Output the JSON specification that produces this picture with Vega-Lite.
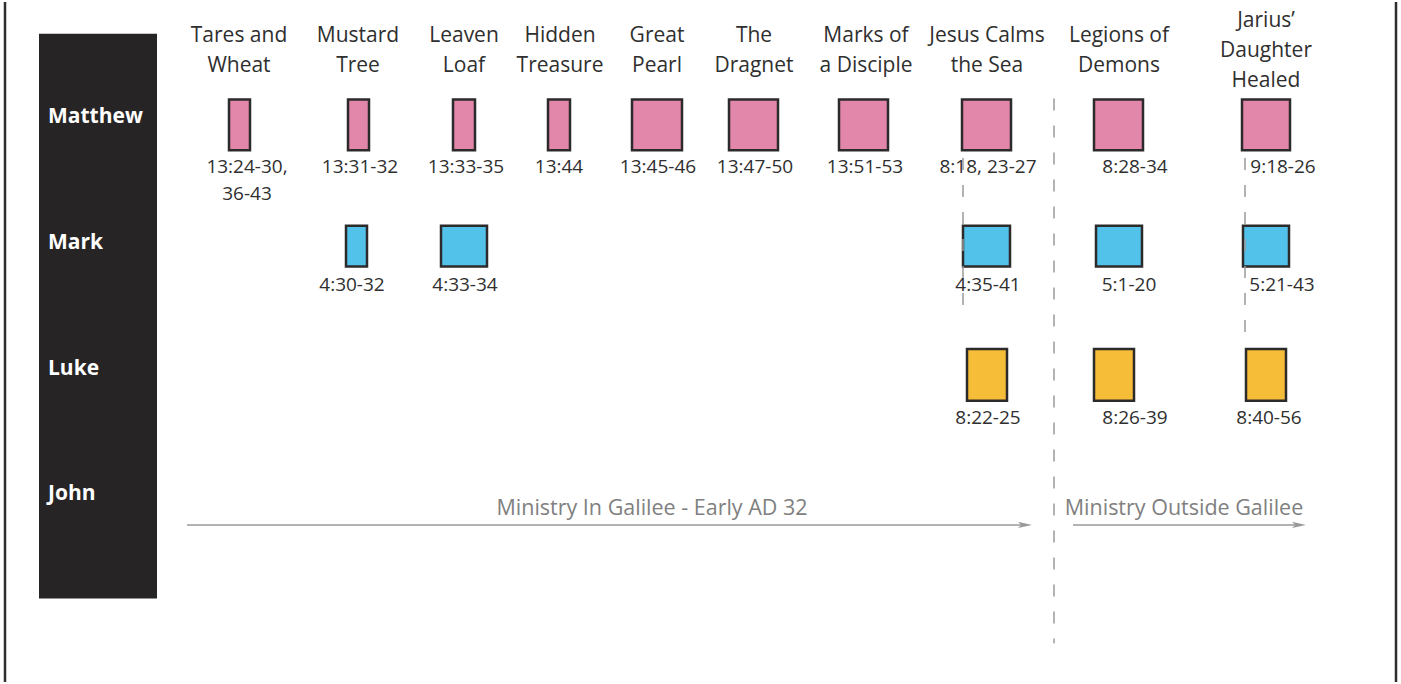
{
  "$schema": "https://vega.github.io/schema/vega-lite/v6.json",
  "width": 1401,
  "height": 684,
  "autosize": {"type": "fit", "contains": "padding"},
  "padding": 0,
  "background": "white",
  "config": {
    "view": {"stroke": null},
    "axis": {"disable": true},
    "text": {"font": "Open Sans"}
  },
  "datasets": {
    "frame": [{"x": 5}, {"x": 1396}],
    "panel": [{"x0": 39, "x1": 157, "y0": 32, "y1": 600}],
    "gospels": [
      {"gospel": "Matthew", "lx": 48, "ly": 116},
      {"gospel": "Mark", "lx": 48, "ly": 242},
      {"gospel": "Luke", "lx": 48, "ly": 369},
      {"gospel": "John", "lx": 48, "ly": 495}
    ],
    "stories": [
      {"story": "Tares and\nWheat", "tx": 239, "ty": 34},
      {"story": "Mustard\nTree", "tx": 358, "ty": 34},
      {"story": "Leaven\nLoaf", "tx": 464, "ty": 34},
      {"story": "Hidden\nTreasure", "tx": 560, "ty": 34},
      {"story": "Great\nPearl", "tx": 657, "ty": 34},
      {"story": "The\nDragnet", "tx": 754, "ty": 34},
      {"story": "Marks of\na Disciple", "tx": 866, "ty": 34},
      {"story": "Jesus Calms\nthe Sea", "tx": 987, "ty": 34},
      {"story": "Legions of\nDemons", "tx": 1119, "ty": 34},
      {"story": "Jarius’\nDaughter\nHealed", "tx": 1266, "ty": 19}
    ],
    "passages": [
      {"gospel": "Matthew", "ref": "13:24-30,\n36-43", "start": 229, "end": 250, "top": 98, "bottom": 149, "lx": 247, "ly": 166},
      {"gospel": "Matthew", "ref": "13:31-32", "start": 348, "end": 369, "top": 98, "bottom": 149, "lx": 360, "ly": 166},
      {"gospel": "Matthew", "ref": "13:33-35", "start": 453, "end": 475, "top": 98, "bottom": 149, "lx": 466, "ly": 166},
      {"gospel": "Matthew", "ref": "13:44", "start": 548, "end": 570, "top": 98, "bottom": 149, "lx": 559, "ly": 166},
      {"gospel": "Matthew", "ref": "13:45-46", "start": 632, "end": 682, "top": 98, "bottom": 149, "lx": 658, "ly": 166},
      {"gospel": "Matthew", "ref": "13:47-50", "start": 729, "end": 778, "top": 98, "bottom": 149, "lx": 755, "ly": 166},
      {"gospel": "Matthew", "ref": "13:51-53", "start": 839, "end": 888, "top": 98, "bottom": 149, "lx": 865, "ly": 166},
      {"gospel": "Matthew", "ref": "8:18, 23-27", "start": 962, "end": 1011, "top": 98, "bottom": 149, "lx": 988, "ly": 166},
      {"gospel": "Matthew", "ref": "8:28-34", "start": 1094, "end": 1143, "top": 98, "bottom": 149, "lx": 1135, "ly": 166},
      {"gospel": "Matthew", "ref": "9:18-26", "start": 1242, "end": 1290, "top": 98, "bottom": 149, "lx": 1283, "ly": 166},
      {"gospel": "Mark", "ref": "4:30-32", "start": 346, "end": 367, "top": 225, "bottom": 266, "lx": 352, "ly": 285},
      {"gospel": "Mark", "ref": "4:33-34", "start": 441, "end": 487, "top": 225, "bottom": 266, "lx": 465, "ly": 285},
      {"gospel": "Mark", "ref": "4:35-41", "start": 963, "end": 1010, "top": 225, "bottom": 266, "lx": 988, "ly": 285},
      {"gospel": "Mark", "ref": "5:1-20", "start": 1096, "end": 1142, "top": 225, "bottom": 266, "lx": 1129, "ly": 285},
      {"gospel": "Mark", "ref": "5:21-43", "start": 1243, "end": 1289, "top": 225, "bottom": 266, "lx": 1282, "ly": 285},
      {"gospel": "Luke", "ref": "8:22-25", "start": 967, "end": 1007, "top": 349, "bottom": 401, "lx": 988, "ly": 418},
      {"gospel": "Luke", "ref": "8:26-39", "start": 1094, "end": 1134, "top": 349, "bottom": 401, "lx": 1135, "ly": 418},
      {"gospel": "Luke", "ref": "8:40-56", "start": 1246, "end": 1286, "top": 349, "bottom": 401, "lx": 1269, "ly": 418}
    ],
    "dividers": [
      {"x": 1054, "y0": 97, "y1": 645},
      {"x": 963, "y0": 157, "y1": 313},
      {"x": 1245, "y0": 157, "y1": 340}
    ],
    "periods": [
      {"period": "Ministry In Galilee - Early AD 32", "x0": 187, "x1": 1026, "tip": 1025, "y": 526, "lx": 652, "ly": 510},
      {"period": "Ministry Outside Galilee", "x0": 1073, "x1": 1300, "tip": 1299, "y": 526, "lx": 1184, "ly": 510}
    ]
  },
  "layer": [
    {
      "data": {"name": "frame"},
      "mark": {"type": "rule", "stroke": "#2e2e2e", "strokeWidth": 2.5},
      "encoding": {
        "x": {"field": "x", "type": "quantitative", "axis": null, "scale": {"domain": [0, 1401], "nice": false, "zero": false}}
      }
    },
    {
      "data": {"name": "panel"},
      "mark": {"type": "rect", "fill": "#262425"},
      "encoding": {
        "x": {"field": "x0", "type": "quantitative"},
        "x2": {"field": "x1"},
        "y": {"field": "y0", "type": "quantitative", "axis": null, "scale": {"domain": [0, 684], "reverse": true, "nice": false, "zero": false}},
        "y2": {"field": "y1"}
      }
    },
    {
      "data": {"name": "gospels"},
      "mark": {"type": "text", "align": "left", "baseline": "middle", "fontSize": 21, "fontWeight": "bold", "color": "white"},
      "encoding": {
        "x": {"field": "lx", "type": "quantitative"},
        "y": {"field": "ly", "type": "quantitative"},
        "text": {"field": "gospel"}
      }
    },
    {
      "data": {"name": "passages"},
      "mark": {"type": "rect", "stroke": "#2d2a2b", "strokeWidth": 2.5},
      "encoding": {
        "x": {"field": "start", "type": "quantitative"},
        "x2": {"field": "end"},
        "y": {"field": "top", "type": "quantitative"},
        "y2": {"field": "bottom"},
        "fill": {"field": "gospel", "type": "nominal", "legend": null, "scale": {"domain": ["Matthew", "Mark", "Luke"], "range": ["#e286aa", "#52c2ea", "#f6bd38"]}}
      }
    },
    {
      "data": {"name": "passages"},
      "mark": {"type": "text", "align": "center", "baseline": "middle", "fontSize": 19, "lineBreak": "\n", "lineHeight": 27, "color": "#2f2f2f"},
      "encoding": {
        "x": {"field": "lx", "type": "quantitative"},
        "y": {"field": "ly", "type": "quantitative"},
        "text": {"field": "ref"}
      }
    },
    {
      "data": {"name": "stories"},
      "mark": {"type": "text", "align": "center", "baseline": "middle", "fontSize": 21, "lineBreak": "\n", "lineHeight": 30, "color": "#2f2f2f"},
      "encoding": {
        "x": {"field": "tx", "type": "quantitative"},
        "y": {"field": "ty", "type": "quantitative"},
        "text": {"field": "story"}
      }
    },
    {
      "data": {"name": "dividers"},
      "mark": {"type": "rule", "stroke": "#9a9a9a", "strokeWidth": 1.5, "strokeDash": [12, 15]},
      "encoding": {
        "x": {"field": "x", "type": "quantitative"},
        "y": {"field": "y0", "type": "quantitative"},
        "y2": {"field": "y1"}
      }
    },
    {
      "data": {"name": "periods"},
      "mark": {"type": "rule", "stroke": "#9a9a9a", "strokeWidth": 1.5},
      "encoding": {
        "x": {"field": "x0", "type": "quantitative"},
        "x2": {"field": "x1"},
        "y": {"field": "y", "type": "quantitative"}
      }
    },
    {
      "data": {"name": "periods"},
      "mark": {"type": "point", "filled": true, "color": "#9a9a9a", "opacity": 1, "size": 196, "shape": "M-1,-0.45L1,0L-1,0.45L-0.55,0Z"},
      "encoding": {
        "x": {"field": "tip", "type": "quantitative"},
        "y": {"field": "y", "type": "quantitative"}
      }
    },
    {
      "data": {"name": "periods"},
      "mark": {"type": "text", "align": "center", "baseline": "middle", "fontSize": 21.5, "color": "#808080"},
      "encoding": {
        "x": {"field": "lx", "type": "quantitative"},
        "y": {"field": "ly", "type": "quantitative"},
        "text": {"field": "period"}
      }
    }
  ]
}
